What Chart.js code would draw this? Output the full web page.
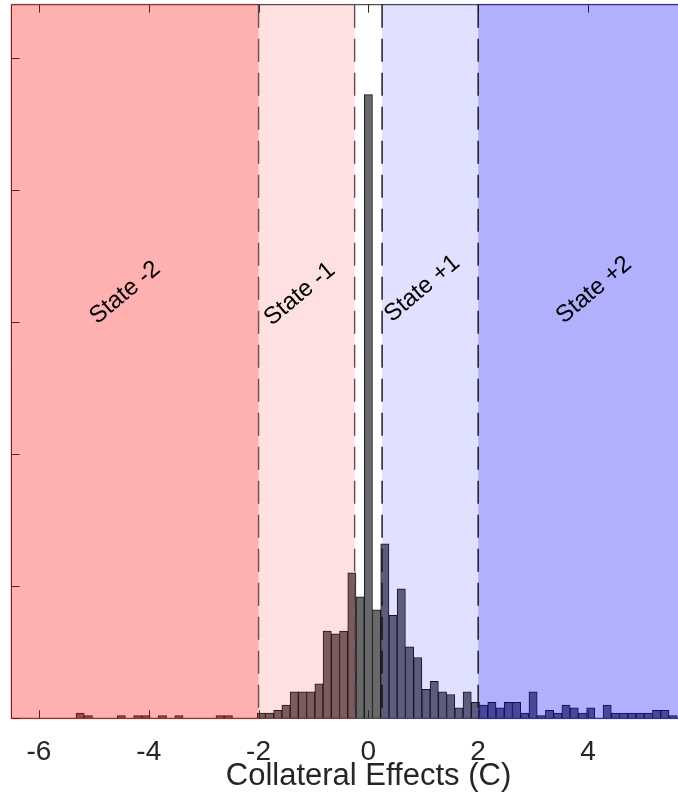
<!DOCTYPE html>
<html>
<head>
<meta charset="utf-8">
<script src="https://cdn.jsdelivr.net/npm/chart.js@4.4.1/dist/chart.umd.min.js"></script>
<style>
  html, body { margin: 0; padding: 0; background: #fff; }
  #wrap { width: 678px; height: 796px; position: relative; }
</style>
</head>
<body>
<div id="wrap"><canvas id="hist"></canvas></div>
<script>
// histogram bins: first centre and width, then the counts
const binStart = -6.45
const binWidth = 0.15
const counts = [
  0, 0, 0, 0, 0, 0, 0, 0,
  4, 2, 0, 0, 0, 2, 0, 2, 2, 0, 2, 0, 2, 0, 0, 0, 0, 2, 2, 0, 0, 0,
  4, 4, 6, 10, 20, 20, 20, 26, 66, 64, 66, 110,
  92, 472, 82,
  132, 78, 98, 54, 46, 22, 28, 20, 18, 8, 20, 12,
  10, 12, 8, 12, 12, 4, 20, 2, 6, 4, 10, 8, 4, 8, 0, 10, 4, 4, 4, 4, 4, 6, 6, 2
]
const xTicks = [-6, -4, -2, 0, 2, 4]
const yTicks = [0, 100, 200, 300, 400, 500]
const stateEdges = [-2, -0.25, 0.25, 2]
const stateNames = ["State -2", "State -1", "State +1", "State +2"]
// where each label sits, in data units
const labelX = [-4.43, -1.25, 0.98, 4.11]
const labelY = [322, 321, 325, 324]
const xTitle = "Collateral Effects (C)"

const xMin = -6.5, xMax = 5.64
const stateFill = ["rgba(255,0,0,0.31)", "rgba(255,0,0,0.12)", "rgba(0,0,255,0.12)", "rgba(0,0,255,0.31)"]
const FONT = "'Liberation Sans', Arial, sans-serif"

var points = counts.map(function(c, i){
  return { x: +(binStart + i * binWidth).toFixed(2), y: c }
})

//FRAME, TICKS, COLOURED STATES AND LABELS
var statePlugin = {
  id: "states",
  afterDatasetsDraw: function(chart){
    var ctx = chart.ctx, a = chart.chartArea
    var xs = chart.scales.x, ys = chart.scales.y
    ctx.save()
    ctx.strokeStyle = "#262626"
    ctx.lineWidth = 1
    ctx.beginPath()
    ctx.moveTo(a.left, a.top); ctx.lineTo(a.right + 1, a.top)
    ctx.moveTo(a.left, a.top); ctx.lineTo(a.left, a.bottom)
    ctx.moveTo(a.left, a.bottom); ctx.lineTo(a.right + 1, a.bottom)
    xTicks.forEach(function(v){
      var px = Math.round(xs.getPixelForValue(v)) + 0.5
      ctx.moveTo(px, a.bottom); ctx.lineTo(px, a.bottom - 8)
      ctx.moveTo(px, a.top); ctx.lineTo(px, a.top + 8)
    })
    yTicks.forEach(function(v){
      var py = Math.round(ys.getPixelForValue(v)) + 0.5
      ctx.moveTo(a.left, py); ctx.lineTo(a.left + 8, py)
    })
    ctx.stroke()
    ctx.restore()
  },
  afterDraw: function(chart){
    var ctx = chart.ctx, a = chart.chartArea
    var xs = chart.scales.x, ys = chart.scales.y
    var bounds = [
      [xMin, stateEdges[0]],
      [stateEdges[0], stateEdges[1]],
      [stateEdges[2], stateEdges[3]],
      [stateEdges[3], xMax]
    ]
    ctx.save()
    bounds.forEach(function(b, i){
      var l = xs.getPixelForValue(b[0]), r = xs.getPixelForValue(b[1])
      if (i == 0) l = a.left - 1
      if (i == 3) r = a.right + 1
      ctx.fillStyle = stateFill[i]
      ctx.fillRect(l, a.top - 1, r - l, a.bottom - a.top + 2)
    })
    // dashed borders of the states
    ctx.lineWidth = 1.4
    ctx.setLineDash([23, 11])
    stateEdges.forEach(function(v, i){
      var px = xs.getPixelForValue(v)
      ctx.strokeStyle = i < 2 ? "#6a4a4a" : "#111"
      ctx.beginPath()
      ctx.moveTo(px, a.top)
      ctx.lineTo(px, a.bottom)
      ctx.stroke()
    })
    ctx.setLineDash([])
    ctx.fillStyle = "#000"
    ctx.font = "24px " + FONT
    ctx.textAlign = "center"
    ctx.textBaseline = "middle"
    stateNames.forEach(function(n, i){
      ctx.save()
      ctx.translate(xs.getPixelForValue(labelX[i]), ys.getPixelForValue(labelY[i]))
      ctx.rotate(-40 * Math.PI / 180)
      ctx.fillText(n, 0, 0)
      ctx.restore()
    })
    // axis title, centred on the full (uncropped) axes box
    ctx.fillStyle = "#262626"
    ctx.font = "31px " + FONT
    ctx.fillText(xTitle, a.left + 357, a.bottom + 58)
    ctx.restore()
  }
}

var rp = document.getElementById("hist")

new Chart(rp, {
  type: "bar",
  data: {
    datasets: [{
      data: points,
      backgroundColor: "#696969",
      borderColor: "#151515",
      borderWidth: 1,
      borderSkipped: "start",
      barPercentage: 1,
      categoryPercentage: 1
    }]
  },
  options: {
    responsive: true,
    maintainAspectRatio: false,
    animation: false,
    layout: { padding: { left: 11.5, top: 4.7, right: 0, bottom: 0 } },
    plugins: {
      legend: { display: false },
      tooltip: { enabled: false }
    },
    scales: {
      x: {
        type: "linear",
        min: xMin,
        max: xMax,
        offset: false,
        grid: { display: false },
        border: { display: false },
        afterBuildTicks: function(scale){
          scale.ticks = xTicks.map(function(v){ return { value: v } })
        },
        afterFit: function(scale){ scale.height = 77.7 },
        ticks: {
          color: "#262626",
          font: { family: FONT, size: 28 },
          padding: 9,
          maxRotation: 0,
          autoSkip: false
        }
      },
      y: {
        type: "linear",
        min: 0,
        max: 540,
        display: false
      }
    }
  },
  plugins: [statePlugin]
})
</script>
</body>
</html>
